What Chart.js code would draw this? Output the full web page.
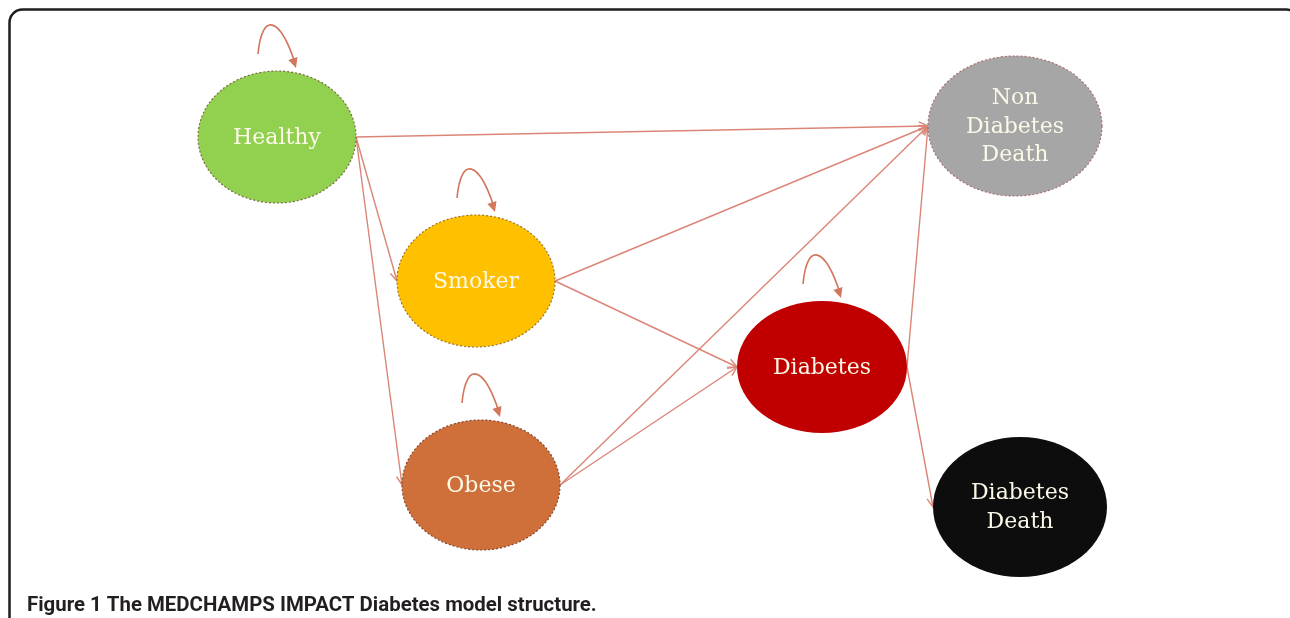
<!DOCTYPE html>
<html>
<head>
<meta charset="utf-8">
<script src="https://cdn.jsdelivr.net/npm/chart.js@4/dist/chart.umd.min.js"></script>
<style>
  html, body { margin: 0; padding: 0; background: #fff; }
  #wrap { width: 1290px; height: 618px; position: relative; }
</style>
</head>
<body>
<div id="wrap"><canvas id="model"></canvas></div>
<script>
// ── model states and transitions ─────────────────────────────
const nodeLabels = ['Healthy', 'Smoker', 'Obese', 'Diabetes', 'Non Diabetes Death', 'Diabetes Death'];
const nodeX = [277, 476, 481, 822, 1015, 1020];
const nodeY = [137, 281, 485, 367, 126, 507];

const transitionFrom = ['Healthy', 'Healthy', 'Healthy', 'Smoker', 'Smoker', 'Obese', 'Obese', 'Diabetes', 'Diabetes'];
const transitionTo = ['Non Diabetes Death', 'Smoker', 'Obese', 'Non Diabetes Death', 'Diabetes',
                      'Non Diabetes Death', 'Diabetes', 'Non Diabetes Death', 'Diabetes Death'];
const selfLoopStates = ['Healthy', 'Smoker', 'Obese', 'Diabetes'];

const caption = 'Figure 1 The MEDCHAMPS IMPACT Diabetes model structure.';

// ── styling ──────────────────────────────────────────────────
const nodeFill = ['#92d050', '#ffc000', '#cf6f3a', '#c00000', '#a6a6a6', '#0d0d0d'];
const nodeEdge = ['#7a6c40', '#9a7428', '#85462a', null, '#a87070', null];
const nodeRx = [79, 79, 79, 85, 87, 87];
const nodeRy = [66, 66, 65, 66, 70, 70];
const textColor = '#fbf8e8';
const arrowColor = '#db8577';
const loopColor = '#d2765c';

// fit the caption into the width it has in the figure
const probe = document.createElement('canvas').getContext('2d');
probe.font = 'bold 20px Roboto';
const captionSize = 20 * 570 / probe.measureText(caption).width;
const captionPadTop = 8;
const yMax = 618 - (captionSize * 1.2 + captionPadTop);

function arrowHead(ctx, x, y, ang, len, open) {
  const a = 0.45;
  ctx.beginPath();
  ctx.moveTo(x - len * Math.cos(ang - a), y - len * Math.sin(ang - a));
  ctx.lineTo(x, y);
  ctx.lineTo(x - len * Math.cos(ang + a), y - len * Math.sin(ang + a));
  if (open) { ctx.stroke(); } else { ctx.closePath(); ctx.fill(); }
}

const diagramPlugin = {
  id: 'diagram',
  beforeDraw(chart) {
    const ctx = chart.ctx;
    ctx.save();
    ctx.fillStyle = '#fff';
    ctx.fillRect(0, 0, chart.width, chart.height);
    ctx.strokeStyle = '#1e1e1e';
    ctx.lineWidth = 2.5;
    ctx.beginPath();
    ctx.roundRect(9.5, 9.5, 1290, 700, 13);
    ctx.stroke();
    ctx.restore();
  },
  afterDatasetsDraw(chart) {
    const ctx = chart.ctx;
    const pts = chart.getDatasetMeta(0).data;
    const idx = name => nodeLabels.indexOf(name);
    ctx.save();

    // transitions: right side of source to left side of target
    ctx.strokeStyle = arrowColor;
    ctx.lineWidth = 1.4;
    transitionFrom.forEach((from, k) => {
      const s = idx(from), t = idx(transitionTo[k]);
      const x1 = pts[s].x + nodeRx[s], y1 = pts[s].y;
      const x2 = pts[t].x - nodeRx[t], y2 = pts[t].y;
      ctx.beginPath();
      ctx.moveTo(x1, y1);
      ctx.lineTo(x2, y2);
      ctx.stroke();
      arrowHead(ctx, x2, y2, Math.atan2(y2 - y1, x2 - x1), 10, true);
    });

    // states
    nodeLabels.forEach((label, i) => {
      const p = pts[i];
      ctx.beginPath();
      ctx.ellipse(p.x, p.y, nodeRx[i], nodeRy[i], 0, 0, Math.PI * 2);
      ctx.fillStyle = nodeFill[i];
      ctx.fill();
      if (nodeEdge[i]) {
        ctx.setLineDash([2, 2]);
        ctx.lineWidth = 1.2;
        ctx.strokeStyle = nodeEdge[i];
        ctx.stroke();
        ctx.setLineDash([]);
      }
      const lines = label.split(' ');
      ctx.fillStyle = textColor;
      ctx.font = '22px "DejaVu Serif"';
      ctx.textAlign = 'center';
      ctx.textBaseline = 'middle';
      lines.forEach((ln, j) => {
        ctx.fillText(ln, p.x, p.y + 1 + (j - (lines.length - 1) / 2) * 28.5);
      });
    });

    // self transitions (stay in the same state)
    ctx.strokeStyle = loopColor;
    ctx.fillStyle = loopColor;
    ctx.lineWidth = 1.6;
    selfLoopStates.forEach(name => {
      const i = idx(name);
      const cx = pts[i].x, top = pts[i].y - nodeRy[i];
      const sx = cx - 19, sy = top - 17;
      const ex = cx + 19, ey = top - 3;
      ctx.beginPath();
      ctx.moveTo(sx, sy);
      ctx.bezierCurveTo(cx - 15, top - 60, cx + 3, top - 54, ex - 1, ey - 5);
      ctx.stroke();
      arrowHead(ctx, ex, ey, Math.atan2(49, 16), 11, false);
    });
    ctx.restore();
  }
};

new Chart(document.getElementById('model'), {
  type: 'scatter',
  data: {
    labels: nodeLabels,
    datasets: [{
      data: nodeX.map((x, i) => ({ x, y: nodeY[i] })),
      pointRadius: 0,
      pointHoverRadius: 0
    }]
  },
  options: {
    responsive: true,
    maintainAspectRatio: false,
    animation: false,
    events: [],
    layout: { padding: { left: 27, right: 0, top: 0, bottom: 0 } },
    plugins: {
      legend: { display: false },
      tooltip: { enabled: false },
      title: {
        display: true,
        text: caption,
        position: 'bottom',
        align: 'start',
        color: '#231f20',
        font: { family: 'Roboto', size: captionSize, weight: 'bold', lineHeight: 1.2 },
        padding: { top: captionPadTop, bottom: 0 }
      }
    },
    scales: {
      x: { type: 'linear', min: 27, max: 1290, display: false },
      y: { type: 'linear', min: 0, max: yMax, reverse: true, display: false }
    }
  },
  plugins: [diagramPlugin]
});
</script>
</body>
</html>
